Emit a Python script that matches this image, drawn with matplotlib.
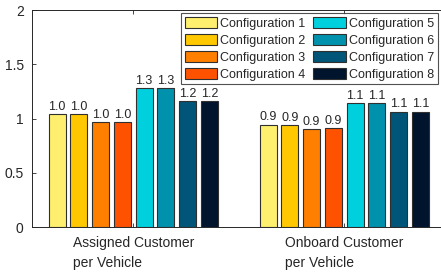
import numpy as np
import matplotlib
matplotlib.use("Agg")
import matplotlib.pyplot as plt

plt.rcParams['font.family'] = ['Liberation Sans', 'DejaVu Sans']

categories = ["Assigned Customer\nper Vehicle", "Onboard Customer\nper Vehicle"]
configs = ["Configuration %d" % i for i in range(1, 9)]
values = [
    [1.04, 0.945],
    [1.04, 0.94],
    [0.97, 0.905],
    [0.97, 0.915],
    [1.28, 1.14],
    [1.28, 1.145],
    [1.16, 1.065],
    [1.16, 1.065],
]
colors = ["#FFEF6E", "#FFC800", "#FF7F00", "#FF5200",
          "#00D0DE", "#0092AC", "#005579", "#00142E"]

W, H = 441, 273
fig = plt.figure(figsize=(W / 100, H / 100), dpi=100)
x0_px, y0_px, ytop_px = 32, 227.3, 10
xmin, xmax = 0.52, 2.5
unit = 211
ax = fig.add_axes([x0_px / W, (H - y0_px) / H, (xmax - xmin) * unit / W, (y0_px - ytop_px) / H])

ink = "#262626"
x = np.arange(1, len(categories) + 1)
pitch = 0.103
bw = 0.081
for i, (vals, c) in enumerate(zip(values, colors)):
    pos = x + (i - 3.5) * pitch
    ax.bar(pos, vals, bw, color=c, edgecolor="#303030", linewidth=0.8, label=configs[i])
    for p, v in zip(pos, vals):
        ax.text(p, v + 0.012, "%.1f" % v, ha="center", va="bottom", fontsize=9, color=ink)

ax.set_xlim(xmin, xmax)
ax.set_ylim(0, 2)
ax.set_yticks([0, 0.5, 1, 1.5, 2])
ax.set_yticklabels(["0", "0.5", "1", "1.5", "2"])
ax.set_xticks(x)
ax.set_xticklabels(categories, multialignment="left", fontsize=10, color=ink, linespacing=1.6)
ax.tick_params(axis="both", direction="in", colors=ink, length=3, width=0.6, top=True, right=False)
ax.tick_params(axis="y", labelsize=10, pad=6)
ax.tick_params(axis="x", pad=6)
for s in ax.spines.values():
    s.set_color(ink)
    s.set_linewidth(0.7)
ax.spines["right"].set_visible(False)

leg = ax.legend(ncol=2, loc="upper left", bbox_to_anchor=(181 / W, 1 - 13 / H),
                bbox_transform=fig.transFigure, fontsize=9, frameon=True, fancybox=False,
                handlelength=2.6, handleheight=1.0, handletextpad=0.25, columnspacing=0.6,
                labelspacing=0.33, borderpad=0.3, borderaxespad=0)
leg.get_frame().set_edgecolor(ink)
leg.get_frame().set_linewidth(0.8)
for t in leg.get_texts():
    t.set_color(ink)

fig.savefig("out.png", dpi=100)
